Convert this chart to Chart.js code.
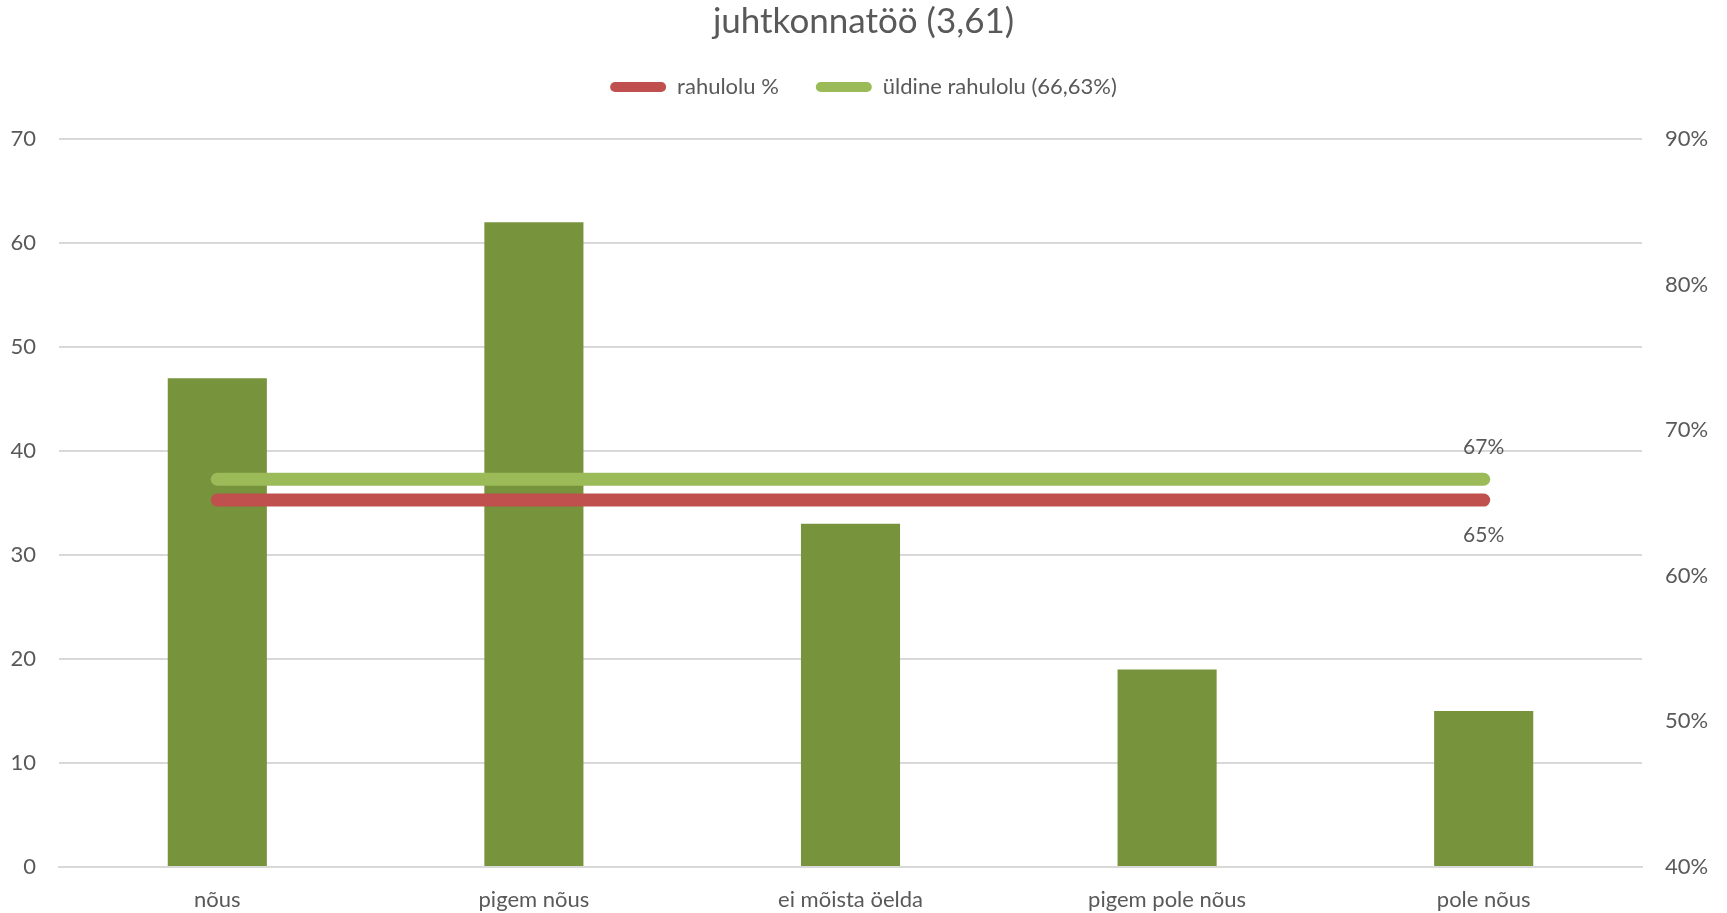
<!DOCTYPE html>
<html lang="et">
<head>
    <meta charset="UTF-8">
    <title>juhtkonnatöö</title>
    <script src="https://cdn.jsdelivr.net/npm/chart.js"></script>
    <style>
        html, body { margin: 0; padding: 0; background: #fff; }
        #wrap { width: 1727px; height: 913px; position: relative; }
    </style>
</head>
<body>
<div id="wrap">
    <canvas id="juhtkondChart"></canvas>
</div>
<script>
    // vastuste arv vastusevariandi kaupa
    var categories = ['nõus', 'pigem nõus', 'ei mõista öelda', 'pigem pole nõus', 'pole nõus'];
    var answerCounts = [47, 62, 33, 19, 15];
    // rahulolu protsendid (parem telg)
    var satisfaction = [65.2, 65.2, 65.2, 65.2, 65.2];
    var overallSatisfaction = [66.63, 66.63, 66.63, 66.63, 66.63];
    var leftTicks = [0, 10, 20, 30, 40, 50, 60, 70];
    var rightTicks = [40, 50, 60, 70, 80, 90];

    var textColor = '#595959';
    var gridColor = '#d9d9d9';
    var fontFamily = 'Lato, "Open Sans", sans-serif';

    // väärtussildid joonte viimase punkti juurde
    var endLabels = {
        id: 'endLabels',
        afterDatasetsDraw: function(chart) {
            var ctx = chart.ctx;
            ctx.save();
            ctx.font = '21px ' + fontFamily;
            ctx.fillStyle = textColor;
            ctx.textAlign = 'center';
            ctx.textBaseline = 'middle';
            chart.data.datasets.forEach(function(ds, i) {
                if (!ds.endLabelOffset) return;
                var meta = chart.getDatasetMeta(i);
                var last = meta.data[meta.data.length - 1];
                var val = ds.data[ds.data.length - 1];
                ctx.fillText(Math.round(val) + '%', last.x, last.y + ds.endLabelOffset);
            });
            ctx.restore();
        }
    };

    // legendi alla lisaruumi enne joonisala
    var legendGap = {
        id: 'legendGap',
        beforeLayout: function(chart) {
            var lg = chart.legend;
            if (lg && !lg._gapAdded) {
                var origFit = lg.fit;
                lg.fit = function() {
                    origFit.call(this);
                    this.height += 31;
                };
                lg._gapAdded = true;
            }
        }
    };

    var ctx = document.getElementById('juhtkondChart').getContext('2d');
    new Chart(ctx, {
        data: {
            labels: categories,
            datasets: [
                {
                    type: 'line',
                    label: 'rahulolu %',
                    data: satisfaction,
                    yAxisID: 'y1',
                    borderColor: '#c0504d',
                    backgroundColor: '#c0504d',
                    borderWidth: 13,
                    borderCapStyle: 'round',
                    pointRadius: 0,
                    order: 0,
                    endLabelOffset: 35
                },
                {
                    type: 'line',
                    label: 'üldine rahulolu (66,63%)',
                    data: overallSatisfaction,
                    yAxisID: 'y1',
                    borderColor: '#9bbb59',
                    backgroundColor: '#9bbb59',
                    borderWidth: 13,
                    borderCapStyle: 'round',
                    pointRadius: 0,
                    order: 1,
                    endLabelOffset: -32
                },
                {
                    type: 'bar',
                    label: 'vastuseid',
                    data: answerCounts,
                    yAxisID: 'y',
                    backgroundColor: '#77933c',
                    categoryPercentage: 1,
                    barPercentage: 0.313,
                    order: 2
                }
            ]
        },
        options: {
            responsive: true,
            maintainAspectRatio: false,
            animation: false,
            layout: { padding: 0 },
            plugins: {
                title: {
                    display: true,
                    text: 'juhtkonnatöö (3,61)',
                    color: textColor,
                    font: { family: fontFamily, size: 35, weight: 'normal', lineHeight: 1 },
                    padding: { top: 4, bottom: 0 }
                },
                legend: {
                    position: 'top',
                    labels: {
                        color: textColor,
                        font: { family: fontFamily, size: 22 },
                        boxWidth: 56,
                        boxHeight: 10,
                        padding: 37,
                        useBorderRadius: true,
                        borderRadius: 5,
                        filter: function(item) { return item.datasetIndex !== 2; },
                        generateLabels: function(chart) {
                            var items = Chart.defaults.plugins.legend.labels.generateLabels(chart);
                            items.forEach(function(it) { it.lineWidth = 0; });
                            return items;
                        }
                    }
                },
                tooltip: { enabled: false }
            },
            scales: {
                x: {
                    grid: { display: false, drawTicks: false },
                    border: { color: gridColor, width: 2 },
                    ticks: {
                        color: textColor,
                        font: { family: fontFamily, size: 22 },
                        padding: 20
                    },
                    afterFit: function(s) { s.height = 46; }
                },
                y: {
                    position: 'left',
                    min: leftTicks[0],
                    max: leftTicks[leftTicks.length - 1],
                    ticks: {
                        stepSize: 10,
                        color: textColor,
                        font: { family: fontFamily, size: 22 },
                        padding: 23
                    },
                    grid: { color: gridColor, lineWidth: 2, drawTicks: false },
                    border: { display: false },
                    afterFit: function(s) { s.width = 59; }
                },
                y1: {
                    position: 'right',
                    min: rightTicks[0],
                    max: rightTicks[rightTicks.length - 1],
                    ticks: {
                        stepSize: 10,
                        color: textColor,
                        font: { family: fontFamily, size: 22 },
                        padding: 23,
                        callback: function(v) { return v + '%'; }
                    },
                    grid: { display: false, drawTicks: false },
                    border: { display: false },
                    afterFit: function(s) { s.width = 85; }
                }
            }
        },
        plugins: [endLabels, legendGap]
    });
</script>
</body>
</html>
